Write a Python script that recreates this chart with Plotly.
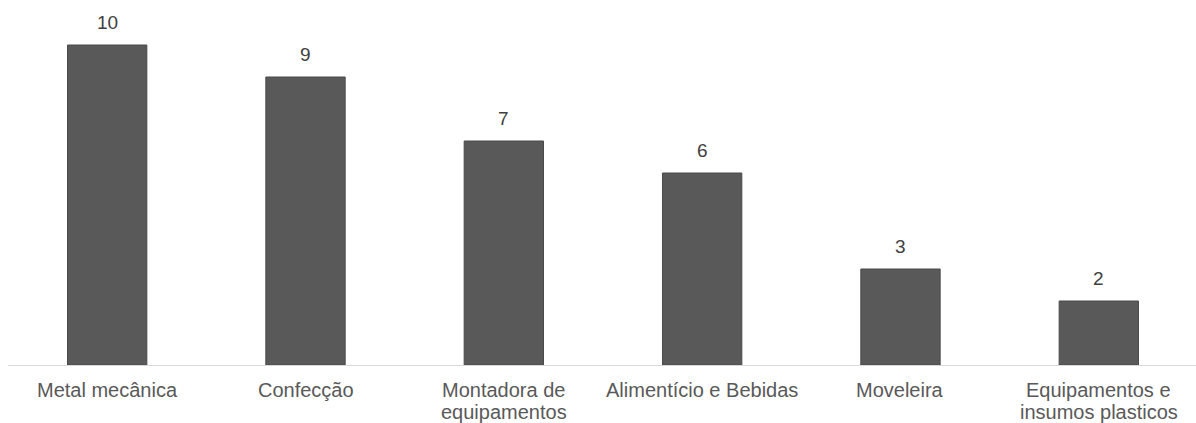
import plotly.graph_objects as go

# Number of companies per industry sector
categories = [
    "Metal mecânica",
    "Confecção",
    "Montadora de<br>equipamentos",
    "Alimentício e Bebidas",
    "Moveleira",
    "Equipamentos e<br>insumos plasticos",
]
values = [10, 9, 7, 6, 3, 2]

FONT = "Liberation Sans, Arial, sans-serif"
xs = list(range(len(categories)))

fig = go.Figure(
    go.Bar(
        x=xs,
        y=values,
        width=0.40,
        marker=dict(color="#595959", line=dict(color="#4a4a4a", width=1)),
    )
)

# Value labels above each bar
for x, v in zip(xs, values):
    fig.add_annotation(
        x=x,
        y=v,
        text=str(v),
        showarrow=False,
        yanchor="bottom",
        yshift=10,
        font=dict(family=FONT, size=19, color="#404040"),
    )

# Category labels under the axis, one annotation per line for tight line spacing
FIRST_LINE = 25   # px below the axis to the first line's centre
LINE_STEP = 22    # px between lines
for x, label in zip(xs, categories):
    for i, line in enumerate(label.split("<br>")):
        fig.add_annotation(
            x=x,
            y=0,
            text=line,
            showarrow=False,
            yanchor="middle",
            yshift=-(FIRST_LINE + i * LINE_STEP),
            font=dict(family=FONT, size=20, color="#595959"),
        )

fig.update_layout(
    width=1196,
    height=423,
    margin=dict(l=8, r=0, t=13, b=58, autoexpand=False),
    paper_bgcolor="white",
    plot_bgcolor="white",
    showlegend=False,
    font=dict(family=FONT, size=20, color="#595959"),
    xaxis=dict(
        range=[-0.5, 5.49],
        automargin=False,
        showticklabels=False,
        showline=True,
        linecolor="#d9d9d9",
        linewidth=1,
        showgrid=False,
        zeroline=False,
        ticks="",
    ),
    yaxis=dict(
        range=[0, 11],
        visible=False,
        automargin=False,
        showgrid=False,
        zeroline=False,
    ),
)

fig.write_html("out.html")
